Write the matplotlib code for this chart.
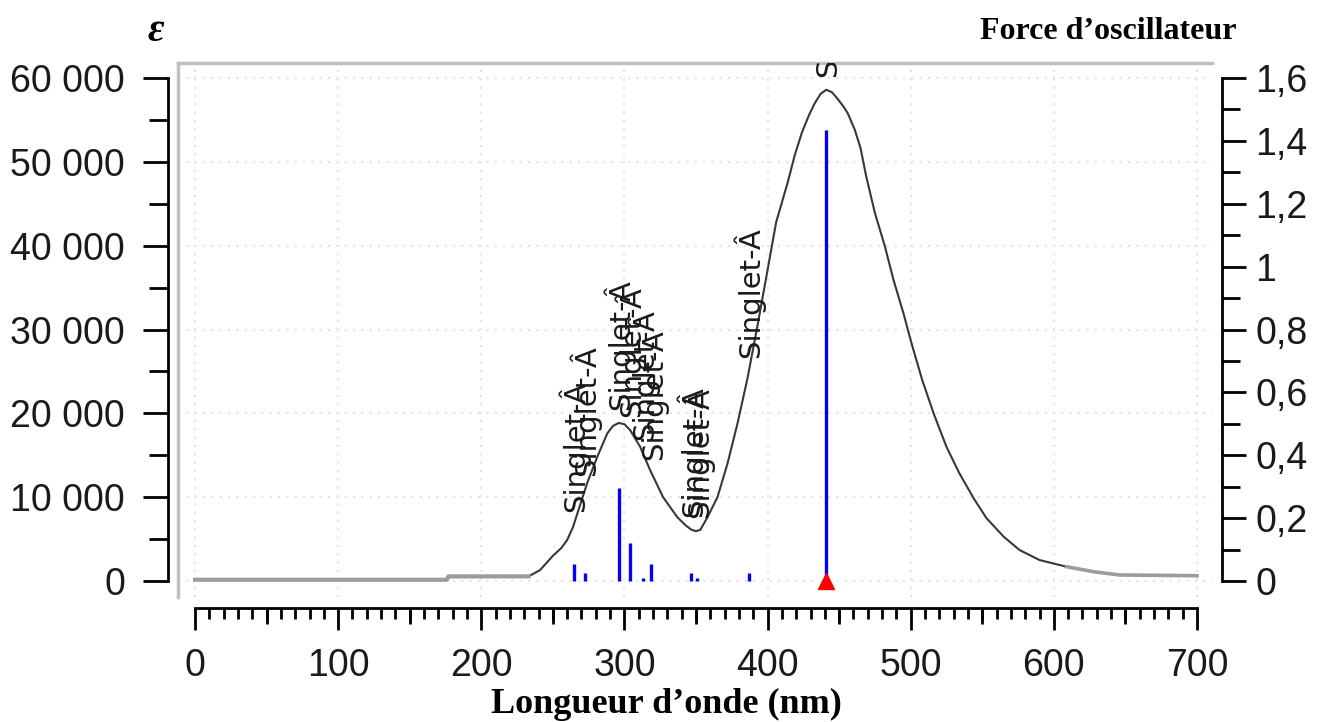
import numpy as np
import matplotlib
matplotlib.use('Agg')
import matplotlib.pyplot as plt
from matplotlib.ticker import FixedLocator
from matplotlib.transforms import offset_copy

# spectre simule
longueur_onde = [0, 176, 177, 233, 241, 250, 256, 260, 264, 274, 281, 288, 292, 296, 300,
                 304, 311, 318, 327, 337, 343, 347, 350, 353, 358, 365, 372, 379, 386,
                 393, 400, 406, 414, 419, 424, 429, 433, 437, 441, 445, 449, 453, 456,
                 461, 465, 469, 475, 482, 488, 495, 500, 508, 516, 525, 534, 544, 553,
                 565, 576, 590, 609, 628, 646, 700]
epsilon = [150, 150, 550, 550, 1300, 3000, 3950, 4900, 6400, 11700, 14800, 17600, 18500,
           18850, 18700, 18000, 16000, 13200, 10000, 7600, 6600, 6100, 5950, 6100, 7600,
           10000, 14000, 18800, 24200, 30500, 37100, 42800, 47500, 50800, 53500, 55600,
           57000, 58100, 58600, 58300, 57500, 56600, 55800, 53800, 51600, 48200, 43900,
           39900, 35900, 31900, 28700, 24000, 20000, 16000, 12850, 9860, 7480, 5280,
           3700, 2500, 1700, 1100, 720, 630]

# transitions (force d'oscillateur)
trans_wl = [264.6, 272.7, 296.0, 304.0, 312.8, 318.9, 346.8, 351.0, 387.0, 441.0]
trans_f = [0.054, 0.027, 0.296, 0.121, 0.008, 0.054, 0.027, 0.008, 0.027, 1.435]
trans_label = 'Singlet-Â'

eps_ticks = [0, 10000, 20000, 30000, 40000, 50000, 60000]
f_ticks = [0, 0.2, 0.4, 0.6, 0.8, 1.0, 1.2, 1.4, 1.6]
f_ticklabels = ['0', '0,2', '0,4', '0,6', '0,8', '1', '1,2', '1,4', '1,6']
wl_ticks = [0, 100, 200, 300, 400, 500, 600, 700]

W, H = 1317, 722
def rect(x0, y0, x1, y1):
    return [x0 / W, 1 - y1 / H, (x1 - x0) / W, (y1 - y0) / H]

XLIM = (-11.9, 710.5)
YLIM = (-1908, 61790)
FLIM = (YLIM[0] / 37500, YLIM[1] / 37500)

fig = plt.figure(figsize=(W / 100, H / 100), dpi=100)

# zone de trace
ax = fig.add_axes(rect(178, 63, 1212, 597))
ax.set_xlim(*XLIM)
ax.set_ylim(*YLIM)
ax.set_xticks(wl_ticks)
ax.set_yticks(eps_ticks)
ax.tick_params(length=0, labelleft=False, labelbottom=False)
ax.grid(True, color='#e4e4e4', linestyle=(0, (1, 3)), linewidth=1.5)
for s in ['right', 'bottom']:
    ax.spines[s].set_visible(False)
for s in ['left', 'top']:
    ax.spines[s].set_color('#c0c0c0')
    ax.spines[s].set_linewidth(2.5)

wl = np.array(longueur_onde)
ep = np.array(epsilon)
ax.plot(wl, ep, color='#383838', lw=1.5, zorder=3)
ax.plot(wl[wl <= 233], ep[wl <= 233], color='#9c9c9c', lw=3, zorder=3)
ax.plot(wl[wl >= 609], ep[wl >= 609], color='#9c9c9c', lw=2.6, zorder=3)

ax2 = ax.twinx()
ax2.set_ylim(*FLIM)
ax2.set_yticks([])
for s in ax2.spines.values():
    s.set_visible(False)
ax2.vlines(trans_wl, 0, trans_f, color='#0000ff', lw=2.4, zorder=2)
ax2.plot([441], [0.0], marker='^', color='#ff0000', markersize=12, clip_on=False, zorder=5)

tr = offset_copy(ax.transData, fig=fig, x=0, y=13, units='dots')
for w in trans_wl:
    y = np.interp(w, wl, ep)
    ax.text(w, y, trans_label, transform=tr, rotation=90, ha='center', va='bottom',
            fontsize=21, color='#1a1a1a', clip_on=True, zorder=6)

tick_font = dict(family='Liberation Sans', size=27)

# axe gauche
axL = fig.add_axes(rect(168, 63, 200, 597))
axL.set_ylim(*YLIM)
axL.patch.set_visible(False)
axL.set_xticks([])
for s in ['right', 'top', 'bottom']:
    axL.spines[s].set_visible(False)
axL.spines['left'].set_bounds(0, 60000)
axL.spines['left'].set_linewidth(2)
axL.yaxis.set_major_locator(FixedLocator(eps_ticks))
axL.yaxis.set_minor_locator(FixedLocator([5000, 15000, 25000, 35000, 45000, 55000]))
axL.set_yticklabels([f'{v:,}'.replace(',', ' ') for v in eps_ticks], **tick_font, color='#1a1a1a')
axL.tick_params(axis='y', which='major', length=18, width=2, pad=13)
axL.tick_params(axis='y', which='minor', length=13.5, width=2)

# axe droit
axR = fig.add_axes(rect(1190, 63, 1222, 597))
axR.set_ylim(*FLIM)
axR.patch.set_visible(False)
axR.set_xticks([])
for s in ['left', 'top', 'bottom']:
    axR.spines[s].set_visible(False)
axR.spines['right'].set_bounds(0, 1.6)
axR.spines['right'].set_linewidth(2)
axR.yaxis.tick_right()
axR.yaxis.set_major_locator(FixedLocator(f_ticks))
axR.yaxis.set_minor_locator(FixedLocator([0.1, 0.3, 0.5, 0.7, 0.9, 1.1, 1.3, 1.5]))
axR.set_yticklabels(f_ticklabels, **tick_font, color='#1a1a1a')
axR.tick_params(axis='y', which='major', length=17, width=2, pad=7)
axR.tick_params(axis='y', which='minor', length=13, width=2)

# axe du bas
axB = fig.add_axes(rect(178, 580, 1212, 608))
axB.set_xlim(*XLIM)
axB.patch.set_visible(False)
axB.set_yticks([])
for s in ['left', 'top', 'right']:
    axB.spines[s].set_visible(False)
axB.spines['bottom'].set_bounds(0, 700)
axB.spines['bottom'].set_linewidth(2)
axB.xaxis.set_major_locator(FixedLocator(wl_ticks))
axB.xaxis.set_minor_locator(FixedLocator([v for v in range(10, 700, 10) if v % 100]))
axB.set_xticklabels([str(v) for v in wl_ticks], **tick_font, color='#1a1a1a')
axB.tick_params(axis='x', which='major', length=16, width=2, pad=13)
axB.tick_params(axis='x', which='minor', length=8, width=2)

axB2 = fig.add_axes(rect(178, 580, 1212, 608))
axB2.set_xlim(*XLIM)
axB2.patch.set_visible(False)
axB2.set_yticks([])
for s in axB2.spines.values():
    s.set_visible(False)
axB2.set_xticks([50, 150, 250, 350, 450, 550, 650])
axB2.tick_params(axis='x', length=11.5, width=2, labelbottom=False)

# titres
fig.text(156 / W, 1 - 41 / H, 'ε', family='Liberation Serif', weight='bold', style='italic',
         size=29, ha='center', va='baseline')
fig.text(1237 / W, 1 - 39 / H, 'Force d’oscillateur', family='Liberation Serif', weight='bold',
         size=23, ha='right', va='baseline')
fig.text(666 / W, 1 - 713 / H, 'Longueur d’onde (nm)', family='Liberation Serif', weight='bold',
         size=26, ha='center', va='baseline')

fig.savefig('out.png', dpi=100)
